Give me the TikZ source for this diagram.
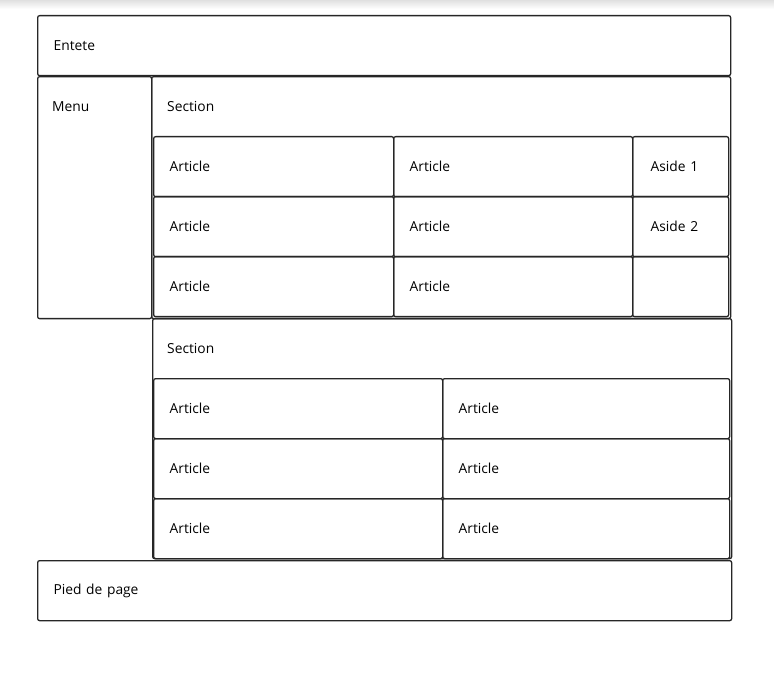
\documentclass[tikz,border=0pt]{standalone}
\usepackage{fontspec}
\setmainfont{Open Sans}
\usetikzlibrary{positioning}
\tikzset{
  bloc/.style={draw=black!85, line width=1.3pt, rounded corners=2pt, anchor=north west, inner sep=0pt},
  case/.style={bloc, minimum height=60pt, inner xsep=16pt, align=left, text width=#1},
  etiq/.style={anchor=west, inner sep=0pt},
}

\begin{document}
\begin{tikzpicture}[x=1pt, y=-1pt, font=\fontsize{13.8}{16}\selectfont]
  \useasboundingbox (0,0) rectangle (774,676);
  \shade[top color=black!12, bottom color=white] (0,0) rectangle (774,9);
  % Entete et menu
  \node[case=661pt] (entete) at (37,15) {Entete};
  \node[bloc, minimum width=114pt, minimum height=242pt] (menu) at (37,76) {};
  \node[etiq] (menu-t) at (52,107) {Menu};
  % premiere section
  \node[bloc, minimum width=579pt, minimum height=242pt] (sec1) at (151,76) {};
  \node[etiq, right=16pt of sec1.north west, yshift=-31pt] (sec1-t) {Section};
  \node[case=208pt] (a11) at (153,136) {Article};
  \node[case=207pt] (a12) at (393,136) {Article};
  \node[case=64pt, inner xsep=18pt, text width=60pt] (aside1) at (632,136) {Aside 1};
  \node[case=208pt] (a21) at (153,196) {Article};
  \node[case=207pt] (a22) at (393,196) {Article};
  \node[case=64pt, inner xsep=18pt, text width=60pt] (aside2) at (632,196) {Aside 2};
  \node[case=208pt] (a31) at (153,256) {Article};
  \node[case=207pt] (a32) at (393,256) {Article};
  \node[case=64pt] (aside3) at (632,256) {};
  % deuxieme section
  \node[bloc, minimum width=579pt, minimum height=240pt] (sec2) at (152,318) {};
  \node[etiq, right=15pt of sec2.north west, yshift=-31pt] (sec2-t) {Section};
  \node[case=257pt] (b11) at (153,378) {Article};
  \node[case=255pt] (b12) at (442,378) {Article};
  \node[case=257pt] (b21) at (153,438) {Article};
  \node[case=255pt] (b22) at (442,438) {Article};
  \node[case=257pt] (b31) at (153,498) {Article};
  \node[case=255pt] (b32) at (442,498) {Article};
  % Pied de page
  \node[case=662pt] (pied) at (37,560) {Pied de page};
\end{tikzpicture}
\end{document}
